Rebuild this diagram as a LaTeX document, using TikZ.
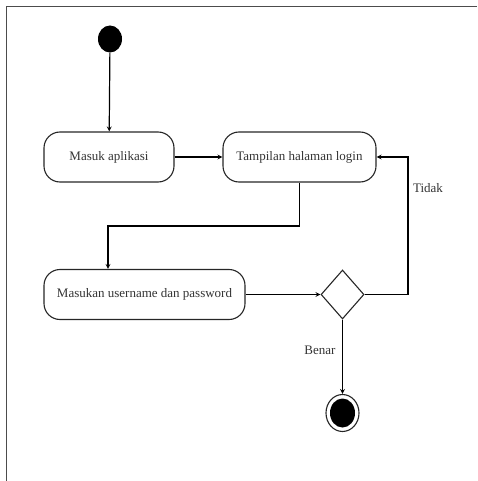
\documentclass[tikz,border=0pt]{standalone}
\usepackage{fontspec}
\setmainfont{Liberation Serif}
\usetikzlibrary{shapes.geometric}

\tikzset{
  act/.style={draw=black!85, line width=1.1pt, rounded corners=16pt, minimum height=50pt,
    inner sep=2pt, font=\fontsize{13}{15}\selectfont, text=black!80},
  initial/.style={ellipse, fill=black, minimum width=24pt, minimum height=27pt, inner sep=0pt},
  decision/.style={diamond, draw=black!85, line width=1.1pt, minimum width=43pt,
    minimum height=49pt, inner sep=0pt},
  final/.style={ellipse, draw=black!85, line width=1.1pt, minimum width=33pt, minimum height=37pt,
    inner sep=0pt, path picture={\fill (path picture bounding box.center) ellipse (12.5pt and 14.5pt);}},
  guard/.style={font=\fontsize{13}{15}\selectfont, text=black!80}
}

\begin{document}
\begin{tikzpicture}[x=1pt,y=-1pt]
  \useasboundingbox (0,0) rectangle (477,481);
  \draw[black!70, line width=1pt] (477,7) -- (6,7) -- (6,481);

  \node[initial] (start) at (110,39) {};
  \node[act, minimum width=130pt] (masuk) at (109,157) {Masuk aplikasi};
  \node[act, minimum width=153pt] (tampil) at (299.5,157) {Tampilan halaman login};
  \node[act, minimum width=201pt] (input) at (144.5,294.5) {Masukan username dan password};
  \node[decision] (cek) at (342.5,294.5) {};
  \node[final] (end) at (342.5,413) {};
  \coordinate (turn) at (108,226);
  \coordinate (back) at (408,226);

  \path[-stealth, line width=1.2pt]
    (start) edge (masuk)
    (masuk) edge (tampil)
    (input) edge (cek)
    (cek)   edge (end);
  \draw[-stealth, line width=1.2pt] (tampil.south) |- (turn) -- (turn |- input.north);
  \draw[-stealth, line width=1.2pt] (cek.east) -| (back) |- (tampil.east);

  \node[guard] (tidak) at (428,188) {Tidak};
  \node[guard] (benar) at (320,350) {Benar};
\end{tikzpicture}
\end{document}
